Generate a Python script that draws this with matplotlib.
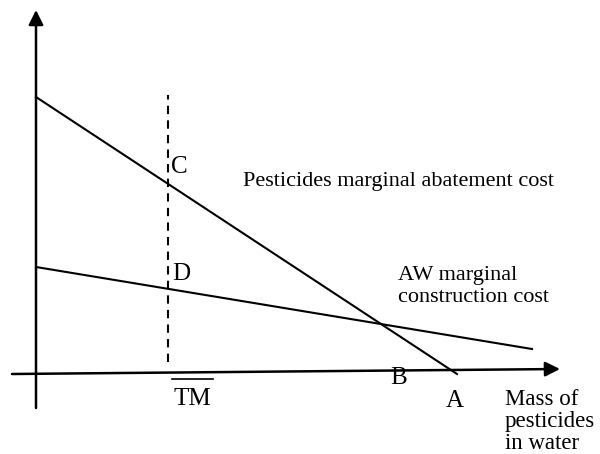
import matplotlib.pyplot as plt

plt.rcParams['font.family'] = 'Liberation Serif'

# diagram units: origin where the axes cross, y upward (about one pixel per unit)
abate_x = [0, 421]
abate_y = [277, 0]
aw_x = [0, 496]
aw_y = [107, 25]
tm_x = 132
tm_y = [12, 279]

xaxis_x = [-24, 524]
xaxis_y = [0, 5]
yaxis_x = [0, 0]
yaxis_y = [-34, 364]

point_labels = ['C', 'D', 'B', 'A']
point_x = [143, 145, 363, 419]
point_y = [201, 94, -10, -33]

right_lines = ['AW marginal', 'construction cost']
right_y = [94, 72]
axis_lines = ['Mass of', 'pesticides', 'in water']
axis_y = [-31, -53, -75]

fig = plt.figure(figsize=(6, 4.54), dpi=100)
ax = fig.add_axes([0, 0, 1, 1])
ax.set_xlim(-36, 564)
ax.set_ylim(-80, 374)
ax.axis('off')

# axes with arrow heads
ax.annotate('', xy=(xaxis_x[1], xaxis_y[1]), xytext=(xaxis_x[0], xaxis_y[0]),
            arrowprops=dict(arrowstyle='-|>', color='black', lw=1.8,
                            mutation_scale=22, shrinkA=0, shrinkB=0))
ax.annotate('', xy=(yaxis_x[1], yaxis_y[1]), xytext=(yaxis_x[0], yaxis_y[0]),
            arrowprops=dict(arrowstyle='-|>', color='black', lw=1.8,
                            mutation_scale=22, shrinkA=0, shrinkB=0))

# cost curves
ax.plot(abate_x, abate_y, color='black', lw=1.5)
ax.plot(aw_x, aw_y, color='black', lw=1.5)
ax.plot([tm_x, tm_x], tm_y, color='black', lw=1.5, linestyle=(0, (4, 3)))

for lab, x, y in zip(point_labels, point_x, point_y):
    ax.text(x, y, lab, fontsize=18, ha='center', va='baseline')

# TM with a bar on top
ax.text(156, -31, 'TM', fontsize=18, ha='center', va='baseline')
ax.plot([136, 177], [-5, -5], color='black', lw=1.2)

ax.text(207, 188, 'Pesticides marginal abatement cost', fontsize=16,
        ha='left', va='baseline')
for txt, y in zip(right_lines, right_y):
    ax.text(362, y, txt, fontsize=16, ha='left', va='baseline')
for txt, y in zip(axis_lines, axis_y):
    ax.text(469, y, txt, fontsize=16.5, ha='left', va='baseline')

plt.savefig('out.png', dpi=100)
